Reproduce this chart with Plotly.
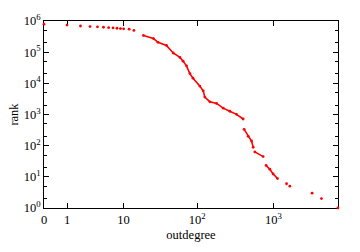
import plotly.graph_objects as go

# outdegree values and their rank (number of nodes with outdegree >= d)
outdeg = [0, 1, 2, 3, 4, 5, 6, 7, 8, 9, 10,
          12, 14, 19, 26, 30, 39, 48, 59, 65, 72, 80, 88, 108, 120, 126, 147, 180, 220, 269, 329, 402,
          414, 468, 518, 544,
          572, 735,
          804, 899, 993, 1134,
          1488, 1642, 3213, 4265, 7000]
rank = [790000, 740000, 690000, 660000, 650000, 630000, 610000, 600000, 585000, 570000, 560000,
        546000, 499000, 345000, 273000, 207000, 165000, 94000, 68000, 51500, 36400, 20500, 14600, 8150, 5760, 3610, 2550, 2270, 1600, 1270, 1010, 716,
        334, 199, 141, 89,
        63, 44.6,
        23.2, 17.6, 12.4, 8.8,
        6, 5, 3, 2, 1]
# the dense (continuous-looking) part of the curve and its visible gaps
dense_from = 19
dense_to = 1134
gap_after = [402, 544, 735]

xtick_deg = [0, 1, 10, 100, 1000]
xtick_text = ["0", "1", "10", "10<sup>2</sup>", "10<sup>3</sup>"]
ytick_vals = [1, 10, 100, 1000, 10000, 100000, 1000000]
ytick_text = ["10<sup>%d</sup>" % i for i in range(7)]
yminor = [m * 10 ** e for e in range(6) for m in (2, 5)]

RED = "#ff0000"

lx, ly = [], []
for d, r in zip(outdeg, rank):
    if d < dense_from or d > dense_to:
        continue
    lx.append(d + 1)
    ly.append(r)
    if d in gap_after:
        lx.append(None)
        ly.append(None)

fig = go.Figure()
fig.add_trace(go.Scatter(x=lx, y=ly, mode="lines", line=dict(color=RED, width=1.6),
                         hoverinfo="skip", showlegend=False))
fig.add_trace(go.Scatter(x=[d + 1 for d in outdeg], y=rank, mode="markers",
                         marker=dict(color=RED, size=2.8, line=dict(width=0)),
                         cliponaxis=False, showlegend=False))

axis_common = dict(showline=True, linecolor="black", linewidth=1, mirror="ticks",
                   ticks="inside", tickcolor="black", showgrid=False, zeroline=False,
                   layer="below traces")

fig.update_layout(
    width=360, height=252,
    margin=dict(l=44, r=22, t=14, b=39),
    paper_bgcolor="white", plot_bgcolor="white",
    font=dict(family="Liberation Serif, Times New Roman, serif", size=12.5, color="black"),
    xaxis=dict(type="log", range=[0, 3.846],
               tickvals=[d + 1 for d in xtick_deg], ticktext=xtick_text,
               ticklen=5,
               title=dict(text="outdegree", standoff=4,
                          font=dict(size=12.5, family="Liberation Serif, serif")),
               tickfont=dict(size=12.5, family="Liberation Serif, serif"),
               **axis_common),
    yaxis=dict(type="log", range=[0, 6],
               tickvals=ytick_vals, ticktext=ytick_text, ticklen=5,
               minor=dict(tickvals=yminor, ticklen=3, ticks="inside", tickcolor="black"),
               title=dict(text="rank", standoff=2,
                          font=dict(size=12.5, family="Liberation Serif, serif")),
               tickfont=dict(size=12.5, family="Liberation Serif, serif"),
               **axis_common),
)

fig.write_html("out.html")
